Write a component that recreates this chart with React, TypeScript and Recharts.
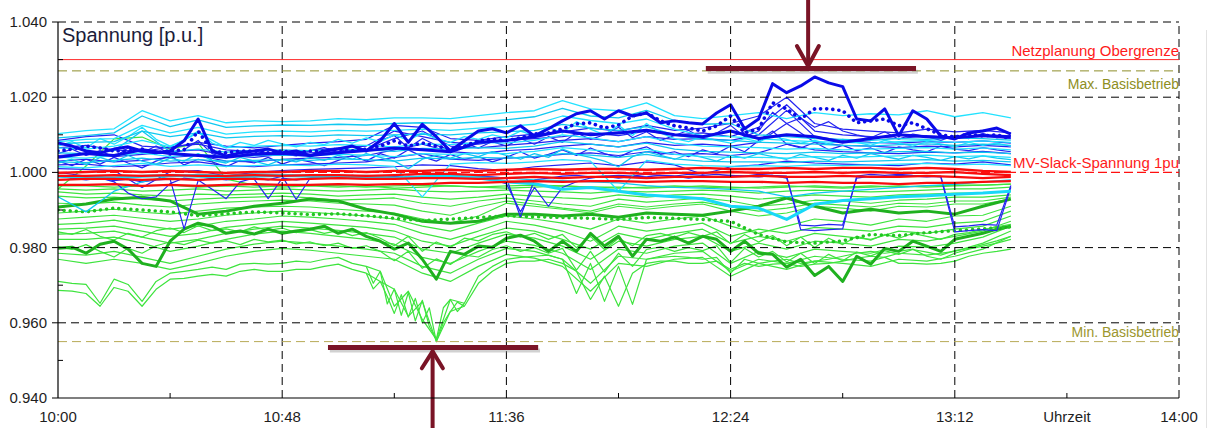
import { LineChart, Line, XAxis, YAxis, ReferenceLine } from "recharts";

const FONT = "'Liberation Sans', Arial, Helvetica, sans-serif";

// minutes after 10:00
const T6 = [0, 6, 12, 18, 24, 30, 36, 42, 48, 54, 60, 66, 72, 78, 84, 90, 96, 102, 108, 114, 120, 126, 132, 138, 144, 150, 156, 162, 168, 174, 180, 186, 192, 198, 204];
const T3 = [0, 3, 6, 9, 12, 15, 18, 21, 24, 27, 30, 33, 36, 39, 42, 45, 48, 51, 54, 57, 60, 63, 66, 69, 72, 75, 78, 81, 84, 87, 90, 93, 96, 99, 102, 105, 108, 111, 114, 117, 120, 123, 126, 129, 132, 135, 138, 141, 144, 147, 150, 153, 156, 159, 162, 165, 168, 171, 174, 177, 180, 183, 186, 189, 192, 195, 198, 201, 204];
// 11:06 - 11:27, the deep dip
const TZ = [66, 67.5, 69, 70.5, 72, 73.5, 75, 76.5, 78, 79.5, 81, 82.5, 84, 85.5, 87];

const TIME_TICKS = [0, 24, 48, 72, 96, 120, 144, 168, 192, 216, 240];
const PU_TICKS = [0.94, 0.95, 0.96, 0.97, 0.98, 0.99, 1.0, 1.01, 1.02, 1.03, 1.04];
const GRID_Y = [1.04, 1.02, 0.98, 0.96];
const GRID_X = [48, 96, 144, 192, 240];

// limits
const NETZPLANUNG = 1.03;
const MAX_BASIS = 1.027;
const SLACK = 1.0;
const MIN_BASIS = 0.955;

// red (MV slack feeders)
const R1 = [0.9999, 1.0001, 1.0004, 1.0001, 1.0004, 1.0001, 0.9999, 1.0001, 1.0001, 1.0004, 1.0004, 1.0001, 1.0004, 1.0004, 1.0007, 1.0004, 1.0007, 1.0009, 1.0007, 1.0009, 1.0009, 1.0007, 1.0009, 1.0012, 1.0009, 1.0009, 1.0012, 1.0009, 1.0012, 1.0012, 1.0009, 1.0012, 1.0009, 1.0004, 1.0001];
const R2 = [0.9991, 0.9991, 0.9993, 0.9991, 0.9993, 0.9991, 0.9991, 0.9993, 0.9991, 0.9993, 0.9993, 0.9991, 0.9993, 0.9996, 0.9996, 0.9993, 0.9996, 0.9999, 0.9996, 0.9999, 0.9999, 0.9996, 0.9999, 0.9999, 1.0001, 0.9999, 0.9999, 1.0001, 0.9999, 1.0001, 0.9999, 0.9999, 1.0001, 0.9996, 0.9993];
const R3 = [0.998, 0.9983, 0.9983, 0.998, 0.9983, 0.998, 0.9983, 0.9983, 0.998, 0.9983, 0.9985, 0.9983, 0.9983, 0.9985, 0.9985, 0.9983, 0.9985, 0.9988, 0.9985, 0.9988, 0.9988, 0.9985, 0.9988, 0.9988, 0.9988, 0.9991, 0.9988, 0.9988, 0.9991, 0.9988, 0.9988, 0.9991, 0.9988, 0.9985, 0.9988];
const R4 = [0.9967, 0.9967, 0.9969, 0.9964, 0.9967, 0.9964, 0.9967, 0.9969, 0.9967, 0.9967, 0.9969, 0.9967, 0.9969, 0.9969, 0.9972, 0.9972, 0.9975, 0.9977, 0.9975, 0.9977, 0.9977, 0.9975, 0.9977, 0.9977, 0.9975, 0.9975, 0.9972, 0.9975, 0.9972, 0.9972, 0.9969, 0.9972, 0.9972, 0.9975, 0.9977];

// cyan
const C1 = [1.0103, 1.0111, 1.0116, 1.0164, 1.0137, 1.0151, 1.0132, 1.0137, 1.0135, 1.0137, 1.0143, 1.014, 1.0145, 1.0145, 1.0143, 1.0151, 1.0159, 1.0164, 1.0191, 1.0169, 1.0164, 1.0185, 1.0151, 1.0143, 1.0151, 1.0159, 1.0143, 1.0159, 1.0151, 1.0156, 1.0153, 1.0164, 1.0148, 1.0159, 1.0145];
const C2 = [1.0092, 1.0098, 1.0105, 1.015, 1.0122, 1.014, 1.012, 1.0124, 1.0126, 1.0125, 1.0128, 1.0126, 1.013, 1.0132, 1.013, 1.0134, 1.014, 1.0148, 1.017, 1.015, 1.0145, 1.0165, 1.0138, 1.0128, 1.013, 1.01, 1.0095, 1.009, 1.0088, 1.0085, 1.009, 1.0088, 1.0092, 1.009, 1.0086];
const C3 = [1.0082, 1.0088, 1.009, 1.0125, 1.0105, 1.012, 1.0102, 1.0108, 1.011, 1.0108, 1.0112, 1.011, 1.0112, 1.0115, 1.0112, 1.0118, 1.0122, 1.0128, 1.015, 1.0138, 1.013, 1.0142, 1.0115, 1.0098, 1.0095, 1.009, 1.0085, 1.0082, 1.008, 1.0078, 1.0082, 1.0085, 1.008, 1.0084, 1.008];
const C4 = [1.0075, 1.008, 1.0082, 1.011, 1.0095, 1.0105, 1.0092, 1.0096, 1.0098, 1.0096, 1.01, 1.0098, 1.01, 1.0102, 1.01, 1.0105, 1.0108, 1.0112, 1.0128, 1.0118, 1.0112, 1.0122, 1.01, 1.0088, 1.0085, 1.008, 1.0078, 1.0075, 1.0072, 1.007, 1.0074, 1.0076, 1.0072, 1.0075, 1.0072];
const C5 = [1.0065, 1.0062, 1.007, 1.0085, 1.0068, 1.0105, 1.0066, 1.007, 1.0072, 1.007, 1.0074, 1.0072, 1.0068, 1.0076, 1.0074, 1.008, 1.0078, 1.0085, 1.01, 1.0092, 1.0082, 1.0095, 1.0078, 1.007, 1.0068, 1.0066, 1.0062, 1.0064, 1.006, 1.0062, 1.0064, 1.0066, 1.0062, 1.0065, 1.006];
const C6 = [1.0052, 1.005, 1.0058, 1.011, 1.0055, 1.0062, 1.0054, 1.0058, 1.006, 1.0058, 1.0062, 1.006, 1.0056, 1.0064, 1.0062, 1.0066, 1.0064, 1.007, 1.0082, 1.0075, 1.0068, 1.0078, 1.0062, 1.0056, 1.0054, 1.0052, 1.005, 1.0054, 1.005, 1.0052, 1.0055, 1.0056, 1.0052, 1.0054, 1.005];
const C7 = [1.004, 1.0038, 1.0045, 1.0052, 1.0042, 1.0048, 1.0042, 1.0045, 1.0046, 1.0044, 1.0048, 1.0046, 1.0042, 1.005, 1.0048, 1.0052, 1.005, 1.0056, 1.0066, 1.006, 1.0054, 1.0062, 1.0048, 1.0042, 1.004, 1.004, 1.0038, 1.0042, 1.004, 1.0042, 1.0044, 1.0046, 1.0042, 1.0044, 1.004];
const C8 = [1.0028, 1.0026, 1.0032, 1.0038, 1.003, 1.0034, 1.003, 1.0032, 1.0034, 1.0032, 1.0036, 1.0034, 1.003, 1.0038, 1.0036, 1.004, 1.0038, 1.0042, 1.005, 1.0046, 1.004, 1.0048, 1.0036, 1.003, 1.0028, 1.0028, 1.0026, 1.003, 1.0028, 1.003, 1.0032, 1.0034, 1.003, 1.0032, 1.0028];
const C9 = [1.0015, 1.0012, 1.0018, 1.0024, 1.0016, 1.002, 1.0016, 1.0018, 1.002, 1.0018, 1.0022, 1.002, 1.0016, 0.9935, 1.0022, 1.0026, 1.0024, 1.0028, 1.0034, 1.003, 0.995, 1.0032, 1.0022, 1.0018, 1.0016, 1.0018, 1.0016, 1.002, 1.0018, 1.002, 1.0022, 1.0024, 1.002, 1.0022, 1.0018];
const C10 = [0.9935, 0.9895, 0.995, 0.9975, 0.999, 0.9995, 0.9992, 0.9996, 0.9994, 0.999, 0.9992, 0.9988, 0.9985, 0.999, 0.9992, 0.9988, 0.9985, 0.998, 0.9978, 0.9975, 0.9972, 0.9965, 0.996, 0.9958, 0.9955, 0.995, 0.9935, 0.9945, 0.995, 0.9955, 0.996, 0.9965, 0.9968, 0.9975, 0.998];
const C11 = [0.999, 0.9988, 0.9985, 0.999, 0.9992, 0.999, 0.9988, 0.999, 0.9992, 0.999, 0.9988, 0.999, 0.9985, 0.9988, 0.999, 0.9985, 0.9975, 0.997, 0.9955, 0.996, 0.995, 0.994, 0.9935, 0.993, 0.991, 0.9905, 0.9875, 0.9915, 0.9925, 0.993, 0.9935, 0.9938, 0.9942, 0.9945, 0.995];
const CJ1 = [1.007, 1.0082, 1.0065, 1.009, 1.0075, 1.0095, 1.012, 1.0088, 1.007, 1.0085, 1.011, 1.0078, 1.0065, 1.008, 1.0072, 1.0085, 1.0076, 1.0068, 1.008, 1.0074, 1.0088, 1.0078, 1.0092, 1.0082, 1.01, 1.0085, 1.0105, 1.009, 1.008, 1.0095, 1.0088, 1.01, 1.0092, 1.011, 1.0098, 1.012, 1.0105, 1.0135, 1.0115, 1.01, 1.0125, 1.0098, 1.013, 1.0105, 1.009, 1.0082, 1.0095, 1.0085, 1.0078, 1.009, 1.0082, 1.0095, 1.0088, 1.0078, 1.0085, 1.0075, 1.0088, 1.008, 1.0072, 1.0085, 1.0078, 1.007, 1.0082, 1.0076, 1.0068, 1.008, 1.0072, 1.0078, 1.007];
const CJ2 = [1.0025, 1.0035, 1.002, 1.004, 1.0028, 1.0045, 1.003, 1.0022, 1.0038, 1.003, 1.005, 1.0032, 1.0025, 1.004, 1.003, 1.002, 1.0035, 1.0028, 1.004, 1.0032, 1.0045, 1.0035, 1.005, 1.004, 1.003, 1.001, 1.0035, 1.0045, 1.0038, 1.005, 1.0042, 1.0055, 1.0045, 1.0035, 1.005, 1.004, 1.0062, 1.0048, 1.004, 1.003, 1.0015, 1.0042, 1.0055, 1.0045, 1.0035, 1.0048, 1.004, 1.003, 1.0045, 1.0038, 1.005, 1.0042, 1.0035, 1.0048, 1.004, 1.0032, 1.0045, 1.0038, 1.005, 1.0042, 1.0035, 1.0045, 1.004, 1.0032, 1.0042, 1.0036, 1.0044, 1.0038, 1.0034];

// blue
const B1 = [1.0078, 1.007, 1.0057, 1.0052, 1.0062, 1.0068, 1.0057, 1.0052, 1.0057, 1.0084, 1.0142, 1.0057, 1.0044, 1.0052, 1.0057, 1.0062, 1.0052, 1.0057, 1.0044, 1.0057, 1.0062, 1.007, 1.0057, 1.0084, 1.013, 1.008, 1.0128, 1.0095, 1.0057, 1.0084, 1.011, 1.0116, 1.0105, 1.0124, 1.0097, 1.0116, 1.0137, 1.0156, 1.0164, 1.0142, 1.0164, 1.015, 1.0158, 1.0132, 1.0137, 1.0132, 1.0129, 1.0158, 1.018, 1.0116, 1.0142, 1.0236, 1.0212, 1.023, 1.0254, 1.0238, 1.0228, 1.0142, 1.0137, 1.0169, 1.0097, 1.0164, 1.0142, 1.0097, 1.0089, 1.0105, 1.011, 1.0118, 1.0102];
const B2 = [1.0057, 1.0062, 1.007, 1.0065, 1.0057, 1.0057, 1.0062, 1.0052, 1.0057, 1.006, 1.011, 1.0057, 1.0052, 1.0057, 1.0057, 1.0052, 1.0057, 1.0052, 1.0057, 1.0057, 1.0062, 1.0057, 1.0062, 1.007, 1.0084, 1.007, 1.0078, 1.007, 1.0062, 1.007, 1.0084, 1.0089, 1.0084, 1.0092, 1.0102, 1.0105, 1.0116, 1.0129, 1.0132, 1.0118, 1.0126, 1.015, 1.0158, 1.0137, 1.0124, 1.0118, 1.011, 1.0124, 1.015, 1.0105, 1.0116, 1.0185, 1.0169, 1.0142, 1.0169, 1.0169, 1.0164, 1.0132, 1.0137, 1.0142, 1.0124, 1.0132, 1.0116, 1.01, 1.0094, 1.0102, 1.0097, 1.01, 1.0089];
const B3 = [1.004, 1.005, 1.0045, 1.006, 1.005, 1.0045, 1.004, 1.0048, 1.005, 1.0045, 1.0052, 1.0058, 1.0065, 1.006, 1.0055, 1.008, 1.0085, 1.0095, 1.011, 1.01, 1.0105, 1.0112, 1.01, 1.0095, 1.011, 1.009, 1.01, 1.0095, 1.008, 1.009, 1.01, 1.0095, 1.0092, 1.0098, 1.0095];
const B4 = [1.0065, 1.0072, 1.006, 1.0055, 1.0068, 1.0075, 1.006, 1.0055, 1.005, 1.0058, 1.0065, 1.007, 1.011, 1.0095, 1.008, 1.0075, 1.0085, 1.009, 1.0095, 1.0105, 1.0098, 1.011, 1.01, 1.0105, 1.0095, 1.012, 1.018, 1.011, 1.01, 1.0095, 1.009, 1.0098, 1.0092, 1.0096, 1.009];
const B5 = [1.0045, 1.005, 1.0042, 1.0048, 1.0055, 1.006, 1.0045, 1.004, 1.0048, 1.0052, 1.0055, 1.006, 1.009, 1.011, 1.007, 1.0065, 1.0072, 1.0078, 1.0085, 1.009, 1.0082, 1.0095, 1.0088, 1.009, 1.0085, 1.01, 1.0165, 1.0095, 1.0085, 1.008, 1.0078, 1.0082, 1.008, 1.0084, 1.0078];
const B6 = [1.003, 1.0035, 1.0028, 1.0032, 1.004, 1.0045, 1.003, 1.0028, 1.0035, 1.0038, 1.004, 1.0045, 1.006, 1.0075, 1.0055, 1.005, 1.0058, 1.0062, 1.007, 1.0075, 1.0068, 1.008, 1.0072, 1.0075, 1.007, 1.008, 1.013, 1.008, 1.0072, 1.007, 1.0066, 1.007, 1.0068, 1.0072, 1.0068];
const B7 = [1.002, 1.0022, 1.0015, 1.0018, 1.0025, 1.0028, 1.0018, 1.0015, 1.002, 1.0022, 1.0025, 1.0028, 1.004, 1.005, 1.0035, 1.0032, 1.0038, 1.0042, 1.0048, 1.0052, 1.0045, 1.0055, 1.0048, 1.005, 1.0045, 1.0052, 1.0075, 1.006, 1.0055, 1.0052, 1.005, 1.0054, 1.0052, 1.0056, 1.005];
const B8 = [1.001, 1.0008, 1.0005, 0.996, 1.0002, 1.0005, 0.999, 1.0, 1.0005, 1.0008, 1.001, 1.0012, 1.0015, 1.002, 1.0018, 1.001, 1.0005, 1.0015, 1.002, 1.0025, 1.0018, 1.0028, 1.002, 0.9995, 1.0015, 1.002, 1.003, 1.0025, 1.0022, 1.002, 1.0018, 1.0025, 1.0022, 1.0028, 1.002];
const B9 = [1.0085, 1.0095, 1.01, 1.007, 1.0065, 1.008, 1.007, 1.0065, 1.0072, 1.0078, 1.0082, 1.0088, 1.0125, 1.012, 1.009, 1.0085, 1.0095, 1.0102, 1.0108, 1.0118, 1.011, 1.0125, 1.0112, 1.0118, 1.013, 1.015, 1.02, 1.013, 1.0115, 1.011, 1.0105, 1.0115, 1.0108, 1.0112, 1.0105];
const BJ1 = [1.005, 1.0062, 1.0045, 1.0058, 1.004, 1.0065, 1.0052, 1.007, 1.0048, 1.006, 1.0085, 1.005, 1.0038, 1.0055, 1.0046, 1.0062, 1.005, 1.0044, 1.0058, 1.0066, 1.0052, 1.007, 1.006, 1.0085, 1.0098, 1.0065, 1.009, 1.0072, 1.006, 1.0078, 1.0065, 1.0082, 1.007, 1.009, 1.0075, 1.0095, 1.008, 1.0105, 1.0088, 1.01, 1.012, 1.0092, 1.0108, 1.0085, 1.0098, 1.0112, 1.009, 1.0105, 1.0125, 1.0095, 1.011, 1.016, 1.013, 1.0145, 1.012, 1.0135, 1.011, 1.01, 1.0092, 1.0108, 1.0088, 1.0102, 1.0095, 1.0085, 1.0098, 1.009, 1.0104, 1.0092, 1.0098];
const BJ2 = [1.003, 1.0018, 1.0035, 1.0022, 1.004, 1.0025, 1.0012, 1.003, 1.0045, 1.002, 1.0035, 1.0028, 1.0015, 1.0032, 1.0025, 1.004, 1.0022, 1.0035, 1.0028, 1.0018, 1.0032, 1.0045, 1.003, 1.005, 1.0038, 1.006, 1.0042, 1.003, 1.0048, 1.0035, 1.0042, 1.0028, 1.004, 1.0055, 1.0038, 1.0048, 1.006, 1.0045, 1.0065, 1.005, 1.004, 1.0058, 1.0068, 1.0048, 1.0055, 1.0042, 1.006, 1.005, 1.007, 1.0055, 1.0085, 1.011, 1.0075, 1.0065, 1.008, 1.006, 1.0072, 1.0058, 1.0065, 1.0052, 1.0068, 1.006, 1.0055, 1.007, 1.0062, 1.0058, 1.0066, 1.006, 1.0055];
const BBOX1 = [0.999, 0.9985, 0.998, 0.9985, 0.9978, 0.9982, 0.9975, 0.998, 0.9982, 0.985, 0.9978, 0.9985, 0.998, 0.9985, 0.9982, 0.993, 0.9985, 0.998, 0.9985, 0.9988, 0.9985, 0.999, 0.9985, 0.9988, 0.999, 0.9985, 0.9988, 0.999, 0.9985, 0.9988, 0.999, 0.9988, 0.9985, 0.9882, 0.998, 0.9985, 0.999, 0.9992, 0.9988, 0.999, 0.9992, 0.999, 0.9995, 0.9992, 0.999, 0.9995, 0.9992, 0.9995, 0.9992, 0.999, 0.9995, 0.9992, 0.999, 0.9848, 0.9845, 0.9848, 0.985, 0.999, 0.9995, 0.9992, 0.9995, 0.9992, 0.999, 0.9988, 0.9842, 0.9845, 0.9848, 0.9845, 0.996];
const BBOX2 = [1.0, 0.9995, 0.999, 0.9985, 0.9975, 0.9945, 0.993, 0.9935, 0.997, 0.9985, 0.998, 0.9955, 0.993, 0.9975, 0.9985, 0.998, 0.999, 0.9928, 0.9985, 0.999, 0.9985, 0.9992, 0.9988, 0.999, 0.9985, 0.999, 0.9988, 0.9985, 0.999, 0.9985, 0.9988, 0.998, 0.997, 0.9895, 0.996, 0.991, 0.996, 0.9975, 0.9985, 0.999, 0.9985, 0.999, 0.9988, 0.9992, 0.999, 0.9985, 0.999, 0.9988, 0.9992, 0.999, 0.9988, 0.9992, 0.9985, 0.986, 0.9858, 0.9862, 0.986, 0.9985, 0.999, 0.9988, 0.9992, 0.999, 0.9988, 0.999, 0.9855, 0.9858, 0.9862, 0.986, 0.9965];

// green
const G1 = [0.9964, 0.9964, 0.9961, 0.9964, 0.9966, 0.9961, 0.9964, 0.9961, 0.9964, 0.9966, 0.9964, 0.9961, 0.9964, 0.9966, 0.9964, 0.9961, 0.9964, 0.9966, 0.9964, 0.9961, 0.9961, 0.9958, 0.9961, 0.9964, 0.9961, 0.9958, 0.9961, 0.9964, 0.9961, 0.9964, 0.9961, 0.9964, 0.9966, 0.9966, 0.9969];
const G2 = [0.9956, 0.9953, 0.9956, 0.995, 0.9953, 0.9956, 0.995, 0.9953, 0.9956, 0.9953, 0.995, 0.9953, 0.9956, 0.995, 0.9948, 0.995, 0.9953, 0.995, 0.9948, 0.9945, 0.995, 0.9948, 0.995, 0.9953, 0.995, 0.9945, 0.995, 0.9953, 0.995, 0.9948, 0.995, 0.9953, 0.9956, 0.9956, 0.9961];
const G3 = [0.9948, 0.9942, 0.9945, 0.994, 0.9937, 0.9942, 0.994, 0.9942, 0.9945, 0.9942, 0.9937, 0.994, 0.9942, 0.9934, 0.9929, 0.9934, 0.9942, 0.9937, 0.9932, 0.9929, 0.994, 0.9934, 0.994, 0.9942, 0.9937, 0.9929, 0.9934, 0.994, 0.9937, 0.9934, 0.994, 0.9942, 0.9945, 0.9945, 0.995];
const G4 = [0.9937, 0.9932, 0.9934, 0.9929, 0.9924, 0.9929, 0.9932, 0.9934, 0.9937, 0.9932, 0.9926, 0.9929, 0.9932, 0.9918, 0.991, 0.9924, 0.9932, 0.9924, 0.9916, 0.991, 0.9929, 0.9921, 0.9926, 0.9932, 0.9924, 0.991, 0.9916, 0.9926, 0.9924, 0.9918, 0.9926, 0.9929, 0.9934, 0.9934, 0.994];
const G5 = [0.9892, 0.9897, 0.9902, 0.9894, 0.9889, 0.9897, 0.9905, 0.9908, 0.991, 0.9908, 0.9902, 0.9897, 0.9892, 0.9876, 0.9865, 0.9884, 0.9918, 0.991, 0.9902, 0.9892, 0.991, 0.9902, 0.991, 0.9916, 0.9897, 0.9884, 0.9892, 0.991, 0.9905, 0.9897, 0.991, 0.9908, 0.9916, 0.9916, 0.9929];
const G6 = [0.9876, 0.9881, 0.9886, 0.9878, 0.987, 0.9876, 0.9886, 0.9892, 0.9897, 0.9894, 0.9889, 0.9884, 0.9876, 0.9857, 0.9844, 0.9865, 0.9884, 0.9876, 0.9865, 0.9849, 0.9876, 0.9865, 0.9876, 0.9884, 0.9857, 0.9838, 0.9857, 0.9876, 0.987, 0.986, 0.9876, 0.987, 0.9884, 0.9886, 0.991];
const G7 = [0.9862, 0.9865, 0.9873, 0.986, 0.9849, 0.9857, 0.987, 0.9876, 0.9884, 0.9881, 0.9876, 0.987, 0.9862, 0.9838, 0.9822, 0.9844, 0.987, 0.986, 0.9844, 0.9817, 0.9857, 0.9844, 0.9854, 0.9865, 0.983, 0.9849, 0.9838, 0.9854, 0.9849, 0.9844, 0.9857, 0.9854, 0.9865, 0.987, 0.9897];
const G8 = [0.9849, 0.9852, 0.9857, 0.9844, 0.983, 0.9838, 0.9854, 0.9862, 0.987, 0.9865, 0.986, 0.9854, 0.9844, 0.9817, 0.9804, 0.983, 0.9852, 0.9844, 0.9822, 0.9796, 0.9838, 0.9822, 0.9838, 0.9849, 0.9812, 0.983, 0.9817, 0.9838, 0.983, 0.9822, 0.9844, 0.9838, 0.9849, 0.9857, 0.9884];
const G9 = [0.9836, 0.9838, 0.9844, 0.9828, 0.9812, 0.9822, 0.9838, 0.9849, 0.9857, 0.9852, 0.9846, 0.9838, 0.9828, 0.9796, 0.9785, 0.9812, 0.9836, 0.9825, 0.9804, 0.9769, 0.9817, 0.9804, 0.9822, 0.983, 0.979, 0.9812, 0.9796, 0.9817, 0.9812, 0.9804, 0.9822, 0.9817, 0.983, 0.9844, 0.987];
const G10 = [0.9822, 0.9822, 0.9828, 0.9812, 0.979, 0.9804, 0.9822, 0.9836, 0.9844, 0.9838, 0.983, 0.9822, 0.9809, 0.9774, 0.9758, 0.979, 0.9817, 0.9806, 0.9785, 0.9742, 0.9796, 0.9785, 0.9804, 0.9812, 0.9758, 0.979, 0.9774, 0.9796, 0.979, 0.9785, 0.9804, 0.9801, 0.9812, 0.9828, 0.9857];
const G11 = [0.9785, 0.978, 0.979, 0.9774, 0.9758, 0.9777, 0.9796, 0.9809, 0.9817, 0.9812, 0.9804, 0.9796, 0.9785, 0.975, 0.9732, 0.9769, 0.9798, 0.979, 0.9769, 0.9705, 0.9777, 0.9769, 0.9785, 0.979, 0.9737, 0.9769, 0.9758, 0.9777, 0.9769, 0.9764, 0.9785, 0.978, 0.979, 0.9812, 0.9844];
const G12 = [0.9769, 0.9758, 0.9769, 0.9758, 0.9742, 0.9758, 0.9777, 0.979, 0.9798, 0.9793, 0.9785, 0.9777, 0.9769, 0.9732, 0.971, 0.975, 0.9782, 0.9772, 0.975, 0.9684, 0.9758, 0.975, 0.9769, 0.9774, 0.9724, 0.9758, 0.9742, 0.9764, 0.9758, 0.975, 0.9769, 0.9764, 0.9777, 0.9796, 0.983];
const G13 = [0.9956, 1.0017, 1.0089, 1.0094, 1.0062, 1.0078, 0.9982, 0.9966, 0.9961, 0.9964, 0.9961, 0.9964, 0.9958, 0.9961, 0.9964, 0.9961, 0.9958, 0.9961, 0.9964, 0.9961, 0.9958, 0.9961, 0.9964, 0.9961, 0.9958, 0.9961, 0.9964, 0.9961, 0.9958, 0.9961, 0.9964, 0.9961, 0.9964, 0.9966, 0.9969];
const G14 = [0.9918, 0.9916, 0.9921, 0.9913, 0.9908, 0.9916, 0.9921, 0.9924, 0.9926, 0.9924, 0.9918, 0.9916, 0.9913, 0.9897, 0.9886, 0.9908, 0.9924, 0.9916, 0.9905, 0.9897, 0.9916, 0.9908, 0.9916, 0.9921, 0.9908, 0.9897, 0.9905, 0.9918, 0.9913, 0.9908, 0.9918, 0.9916, 0.9924, 0.9924, 0.9934];
const GJ1 = [0.9842, 0.9835, 0.9848, 0.983, 0.982, 0.9838, 0.9828, 0.9845, 0.9852, 0.984, 0.9858, 0.9845, 0.985, 0.9842, 0.9855, 0.9846, 0.9852, 0.984, 0.9848, 0.9838, 0.9845, 0.9832, 0.984, 0.9825, 0.9805, 0.983, 0.979, 0.9815, 0.98, 0.9825, 0.9818, 0.9835, 0.9842, 0.9828, 0.9838, 0.9822, 0.9835, 0.98, 0.983, 0.9795, 0.9825, 0.9805, 0.9832, 0.9838, 0.9828, 0.984, 0.983, 0.9842, 0.981, 0.9835, 0.9815, 0.9832, 0.9805, 0.9828, 0.98, 0.9825, 0.9808, 0.983, 0.982, 0.9835, 0.9825, 0.9838, 0.983, 0.9822, 0.9835, 0.984, 0.9848, 0.9855, 0.9862];
const GJ2 = [0.9802, 0.9795, 0.9808, 0.979, 0.9775, 0.9798, 0.9785, 0.9805, 0.9815, 0.9808, 0.982, 0.9812, 0.9818, 0.9808, 0.9822, 0.9815, 0.982, 0.981, 0.9815, 0.9805, 0.9812, 0.9798, 0.9805, 0.979, 0.9765, 0.979, 0.9745, 0.977, 0.9755, 0.978, 0.9775, 0.9795, 0.9805, 0.979, 0.98, 0.9785, 0.9798, 0.974, 0.979, 0.9735, 0.9785, 0.975, 0.9795, 0.9802, 0.979, 0.98, 0.9792, 0.9805, 0.976, 0.9798, 0.9775, 0.979, 0.9762, 0.9785, 0.9758, 0.9782, 0.9765, 0.9788, 0.9778, 0.9792, 0.9782, 0.9795, 0.9788, 0.978, 0.9792, 0.9798, 0.9808, 0.9818, 0.983];
const G_LOW1 = [0.971, 0.9705, 0.9702, 0.9652, 0.9716, 0.9702, 0.9657, 0.971, 0.9732, 0.9737, 0.9742, 0.9748, 0.9742, 0.9756, 0.9758, 0.9756, 0.9758, 0.9764, 0.9761, 0.9769, 0.9774, 0.9758, 0.975, 0.9737, 0.9644, 0.9684, 0.9609, 0.9556, 0.9662, 0.9652, 0.9724, 0.975, 0.9769, 0.9774, 0.9777, 0.978, 0.9769, 0.9678, 0.9758, 0.9657, 0.975, 0.9649, 0.9769, 0.9774, 0.9777, 0.9774, 0.9769, 0.9774, 0.9732, 0.9769, 0.9758, 0.9764, 0.9769, 0.9758, 0.9764, 0.9769, 0.9777, 0.9785, 0.979, 0.9785, 0.979, 0.9796, 0.9777, 0.9769, 0.9785, 0.9796, 0.9804, 0.9812, 0.9822];
const G_LOW2 = [0.9686, 0.9684, 0.9678, 0.9644, 0.9694, 0.9684, 0.9644, 0.9689, 0.9716, 0.9718, 0.9724, 0.9729, 0.9724, 0.9737, 0.9742, 0.9737, 0.9737, 0.9742, 0.9742, 0.975, 0.9756, 0.9742, 0.9732, 0.971, 0.9689, 0.9617, 0.9657, 0.955, 0.963, 0.9644, 0.9705, 0.9737, 0.9758, 0.9764, 0.9764, 0.9769, 0.9758, 0.9737, 0.9662, 0.9724, 0.9644, 0.9732, 0.9758, 0.9764, 0.9764, 0.9758, 0.9758, 0.9764, 0.9742, 0.9758, 0.975, 0.9756, 0.9758, 0.975, 0.9756, 0.9758, 0.9764, 0.9772, 0.9777, 0.9774, 0.9758, 0.9758, 0.9756, 0.9758, 0.9764, 0.9777, 0.9785, 0.979, 0.9796];
const ZIG1 = [0.975, 0.9705, 0.9737, 0.965, 0.969, 0.962, 0.968, 0.9605, 0.966, 0.959, 0.9556, 0.964, 0.9662, 0.963, 0.9652];
const ZIG2 = [0.9732, 0.969, 0.971, 0.967, 0.9625, 0.9675, 0.9615, 0.9665, 0.96, 0.964, 0.955, 0.96, 0.963, 0.9655, 0.9644];
const GT1 = [0.9908, 0.9916, 0.9929, 0.9934, 0.9924, 0.9889, 0.9897, 0.991, 0.9918, 0.9929, 0.9924, 0.9902, 0.9889, 0.987, 0.9865, 0.987, 0.9889, 0.9889, 0.9884, 0.9889, 0.9881, 0.9892, 0.9889, 0.9886, 0.9897, 0.991, 0.9932, 0.991, 0.9892, 0.9902, 0.9892, 0.9897, 0.9889, 0.991, 0.9929];
const GT2 = [0.9798, 0.9801, 0.9785, 0.9809, 0.9817, 0.9796, 0.9758, 0.975, 0.9817, 0.9849, 0.9865, 0.9857, 0.9838, 0.9844, 0.9836, 0.9849, 0.9838, 0.9844, 0.9849, 0.9857, 0.9838, 0.9849, 0.983, 0.9817, 0.9796, 0.9812, 0.9769, 0.9716, 0.979, 0.9782, 0.9804, 0.9801, 0.9825, 0.9833, 0.9817, 0.979, 0.9817, 0.979, 0.9838, 0.9804, 0.983, 0.9777, 0.9822, 0.9817, 0.9828, 0.9812, 0.983, 0.9822, 0.979, 0.9817, 0.9785, 0.9782, 0.9748, 0.9769, 0.9726, 0.975, 0.971, 0.9777, 0.9756, 0.9798, 0.979, 0.9817, 0.9804, 0.979, 0.9822, 0.983, 0.9838, 0.9849, 0.9857];
const GD = [0.99, 0.9895, 0.9905, 0.99, 0.9895, 0.9885, 0.989, 0.9895, 0.9892, 0.9888, 0.989, 0.9885, 0.9878, 0.9872, 0.9876, 0.988, 0.9885, 0.9882, 0.988, 0.9878, 0.9875, 0.988, 0.9878, 0.9875, 0.987, 0.9835, 0.9815, 0.9812, 0.9818, 0.9835, 0.9832, 0.984, 0.9845, 0.985, 0.9855];

// annotation arrows, [minutes, p.u.]
const ARROW_BARS = [
  [[138.7, 1.0276], [183.7, 1.0276]],
  [[57.8, 0.9534], [102.8, 0.9534]],
];
const ARROW_SHAFTS = [
  [[160.6, 1.0459], [160.6, 1.0289]],
  [[80.2, 0.932], [80.2, 0.9521]],
];
const ARROW_HEADS = [
  [[158.2, 1.0336], [160.6, 1.0283], [162.9, 1.0336]],
  [[77.9, 0.9479], [80.2, 0.9524], [82.4, 0.9479]],
];

type Style = { stroke: string; w: number; dash?: string };
const GREEN: Style = { stroke: "#3ee43e", w: 1.2 };
const GREEN_THICK: Style = { stroke: "#1fb01f", w: 3 };
const GREEN_DOT: Style = { stroke: "#22c422", w: 3.4, dash: "0.1 6" };
const BLUE: Style = { stroke: "#2424f2", w: 1.2 };
const BLUE_THICK: Style = { stroke: "#0a0ae8", w: 3 };
const BLUE_DOT: Style = { stroke: "#0a0ae8", w: 3.6, dash: "0.1 6" };
const CYAN: Style = { stroke: "#22e2ff", w: 1.3 };
const CYAN2: Style = { stroke: "#10c8f0", w: 1.3 };
const CYAN_THICK: Style = { stroke: "#18d8f8", w: 3 };
const RED: Style = { stroke: "#f80c0c", w: 2.3 };

const SERIES: { id: string; t: number[]; v: number[]; s: Style }[] = [
  { id: "gl1", t: T3, v: G_LOW1, s: GREEN },
  { id: "gl2", t: T3, v: G_LOW2, s: GREEN },
  { id: "z1", t: TZ, v: ZIG1, s: GREEN },
  { id: "z2", t: TZ, v: ZIG2, s: GREEN },
  { id: "g12", t: T6, v: G12, s: GREEN },
  { id: "g11", t: T6, v: G11, s: GREEN },
  { id: "gj2", t: T3, v: GJ2, s: GREEN },
  { id: "g10", t: T6, v: G10, s: GREEN },
  { id: "g9", t: T6, v: G9, s: GREEN },
  { id: "gj1", t: T3, v: GJ1, s: GREEN },
  { id: "g8", t: T6, v: G8, s: GREEN },
  { id: "g7", t: T6, v: G7, s: GREEN },
  { id: "g6", t: T6, v: G6, s: GREEN },
  { id: "g5", t: T6, v: G5, s: GREEN },
  { id: "g14", t: T6, v: G14, s: GREEN },
  { id: "g4", t: T6, v: G4, s: GREEN },
  { id: "g3", t: T6, v: G3, s: GREEN },
  { id: "g2", t: T6, v: G2, s: GREEN },
  { id: "g1", t: T6, v: G1, s: GREEN },
  { id: "g13", t: T6, v: G13, s: GREEN },
  { id: "gt2", t: T3, v: GT2, s: GREEN_THICK },
  { id: "gt1", t: T6, v: GT1, s: GREEN_THICK },
  { id: "gd", t: T6, v: GD, s: GREEN_DOT },
  { id: "bbox1", t: T3, v: BBOX1, s: BLUE },
  { id: "bbox2", t: T3, v: BBOX2, s: BLUE },
  { id: "b8", t: T6, v: B8, s: BLUE },
  { id: "b7", t: T6, v: B7, s: BLUE },
  { id: "bj2", t: T3, v: BJ2, s: BLUE },
  { id: "b6", t: T6, v: B6, s: BLUE },
  { id: "b5", t: T6, v: B5, s: BLUE },
  { id: "bj1", t: T3, v: BJ1, s: BLUE },
  { id: "b4", t: T6, v: B4, s: BLUE },
  { id: "b9", t: T6, v: B9, s: BLUE },
  { id: "c10", t: T6, v: C10, s: CYAN2 },
  { id: "c9", t: T6, v: C9, s: CYAN },
  { id: "cj2", t: T3, v: CJ2, s: CYAN2 },
  { id: "c8", t: T6, v: C8, s: CYAN2 },
  { id: "c7", t: T6, v: C7, s: CYAN },
  { id: "c6", t: T6, v: C6, s: CYAN2 },
  { id: "cj1", t: T3, v: CJ1, s: CYAN },
  { id: "c5", t: T6, v: C5, s: CYAN },
  { id: "c4", t: T6, v: C4, s: CYAN2 },
  { id: "c3", t: T6, v: C3, s: CYAN },
  { id: "c2", t: T6, v: C2, s: CYAN2 },
  { id: "c1", t: T6, v: C1, s: CYAN },
  { id: "c11", t: T6, v: C11, s: CYAN_THICK },
  { id: "b3", t: T6, v: B3, s: BLUE_THICK },
  { id: "b1", t: T3, v: B1, s: BLUE_THICK },
  { id: "b2", t: T3, v: B2, s: BLUE_DOT },
  { id: "r4", t: T6, v: R4, s: RED },
  { id: "r3", t: T6, v: R3, s: RED },
  { id: "r2", t: T6, v: R2, s: RED },
  { id: "r1", t: T6, v: R1, s: RED },
];

const toPoints = (t: number[], v: number[]) => t.map((m, i) => ({ t: m, v: v[i] }));

function hhmm(m: number) {
  const h = 10 + Math.floor(m / 60);
  const mm = m % 60;
  return `${h}:${mm < 10 ? "0" : ""}${mm}`;
}

function TimeTick(props: any) {
  const { x, y, payload } = props;
  const m = payload.value as number;
  const major = m % 48 === 0;
  const label = major ? hhmm(m) : m === 216 ? "Uhrzeit" : "";
  return (
    <g>
      {!major && <line x1={x} x2={x} y1={y} y2={y - 5} stroke="#000" strokeWidth={1} />}
      {label && (
        <text x={x} y={y + 24} textAnchor="middle" fontSize={15} fontFamily={FONT} fill="#1e1e1e">
          {label}
        </text>
      )}
    </g>
  );
}

function PuTick(props: any) {
  const { x, y, payload } = props;
  const v = payload.value as number;
  const major = Math.round(v * 100) % 2 === 0;
  if (!major) return <line x1={x} x2={x + 5} y1={y} y2={y} stroke="#000" strokeWidth={1} />;
  return (
    <g>
      <line x1={x - 6} x2={x} y1={y} y2={y} stroke="#000" strokeWidth={1} />
      <text x={x - 11} y={y + 5} textAnchor="end" fontSize={15} fontFamily={FONT} fill="#1e1e1e">
        {v.toFixed(3)}
      </text>
    </g>
  );
}

function EdgeLabel(props: any) {
  const { viewBox, text, color, dy, size } = props;
  if (!viewBox) return null;
  return (
    <text
      x={viewBox.x + viewBox.width}
      y={viewBox.y + dy}
      textAnchor="end"
      fontSize={size}
      fontFamily={FONT}
      fill={color}
    >
      {text}
    </text>
  );
}

const ARROW = "#7a1426";

export default function App() {
  return (
    <div style={{ position: "absolute", left: 0, top: 0, width: 1207, height: 428, background: "#fff" }}>
      <LineChart width={1207} height={428} margin={{ top: 22, right: 28, bottom: 0, left: 0 }}>
        <XAxis
          type="number"
          dataKey="t"
          domain={[0, 240]}
          ticks={TIME_TICKS}
          interval={0}
          tick={<TimeTick />}
          tickLine={false}
          tickSize={0}
          tickMargin={0}
          height={30}
          axisLine={{ stroke: "#000", strokeWidth: 1.2 }}
          allowDataOverflow
        />
        <YAxis
          type="number"
          domain={[0.94, 1.04]}
          ticks={PU_TICKS}
          interval={0}
          tick={<PuTick />}
          tickLine={false}
          tickSize={0}
          tickMargin={0}
          width={58}
          axisLine={{ stroke: "#000", strokeWidth: 1.2 }}
          allowDataOverflow
        />

        {SERIES.map((s) => (
          <Line
            key={s.id}
            data={toPoints(s.t, s.v)}
            dataKey="v"
            type="linear"
            stroke={s.s.stroke}
            strokeWidth={s.s.w}
            strokeDasharray={s.s.dash}
            strokeLinecap={s.s.dash ? "round" : "butt"}
            strokeLinejoin="round"
            dot={false}
            activeDot={false}
            isAnimationActive={false}
          />
        ))}

        {GRID_Y.map((v) => (
          <ReferenceLine key={`gy${v}`} y={v} stroke="#000" strokeDasharray="8 5" strokeWidth={1} />
        ))}
        {GRID_X.map((m) => (
          <ReferenceLine key={`gx${m}`} x={m} stroke="#000" strokeDasharray="8 5" strokeWidth={1} />
        ))}

        <ReferenceLine
          y={NETZPLANUNG}
          stroke="#ff2a2a"
          strokeWidth={1}
          label={<EdgeLabel text="Netzplanung Obergrenze" color="#ff1a1a" dy={-4} size={15} />}
        />
        <ReferenceLine
          y={MAX_BASIS}
          stroke="#8e8e2a"
          strokeDasharray="9 5"
          strokeWidth={1}
          label={<EdgeLabel text="Max. Basisbetrieb" color="#8e8e22" dy={18} size={14} />}
        />
        <ReferenceLine
          y={SLACK}
          stroke="#ff1010"
          strokeDasharray="9 4"
          strokeWidth={1.2}
          label={<EdgeLabel text="MV-Slack-Spannung 1pu" color="#ff1a1a" dy={-4} size={15} />}
        />
        <ReferenceLine
          y={MIN_BASIS}
          stroke="#b8ab58"
          strokeDasharray="9 5"
          strokeWidth={1}
          label={<EdgeLabel text="Min. Basisbetrieb" color="#9c962e" dy={-5} size={14} />}
        />

        {ARROW_BARS.map((seg, i) => (
          <ReferenceLine
            key={`bs${i}`}
            segment={[
              { x: seg[0][0] + 0.4, y: seg[0][1] - 0.0008 },
              { x: seg[1][0] + 0.4, y: seg[1][1] - 0.0008 },
            ]}
            stroke="#9a9a9a"
            strokeOpacity={0.45}
            strokeWidth={4}
            ifOverflow="visible"
          />
        ))}
        {ARROW_BARS.map((seg, i) => (
          <ReferenceLine
            key={`b${i}`}
            segment={[
              { x: seg[0][0], y: seg[0][1] },
              { x: seg[1][0], y: seg[1][1] },
            ]}
            stroke={ARROW}
            strokeWidth={5}
            ifOverflow="visible"
          />
        ))}
        {ARROW_SHAFTS.map((seg, i) => (
          <ReferenceLine
            key={`s${i}`}
            segment={[
              { x: seg[0][0], y: seg[0][1] },
              { x: seg[1][0], y: seg[1][1] },
            ]}
            stroke={ARROW}
            strokeWidth={4}
            ifOverflow="visible"
          />
        ))}
        {ARROW_HEADS.map((h, i) => [
          <ReferenceLine
            key={`ha${i}`}
            segment={[
              { x: h[0][0], y: h[0][1] },
              { x: h[1][0], y: h[1][1] },
            ]}
            stroke={ARROW}
            strokeWidth={4}
            strokeLinecap="round"
            ifOverflow="visible"
          />,
          <ReferenceLine
            key={`hb${i}`}
            segment={[
              { x: h[2][0], y: h[2][1] },
              { x: h[1][0], y: h[1][1] },
            ]}
            stroke={ARROW}
            strokeWidth={4}
            strokeLinecap="round"
            ifOverflow="visible"
          />,
        ])}
      </LineChart>
      <svg
        width={1207}
        height={428}
        style={{ position: "absolute", left: 0, top: 0, pointerEvents: "none" }}
      >
        <text x={62} y={42} fontSize={20} fontFamily={FONT} fill="#1c1c3a">
          Spannung [p.u.]
        </text>
        <line x1={1206.5} x2={1206.5} y1={30} y2={428} stroke="#e2e2e2" strokeWidth={1} />
      </svg>
    </div>
  );
}
